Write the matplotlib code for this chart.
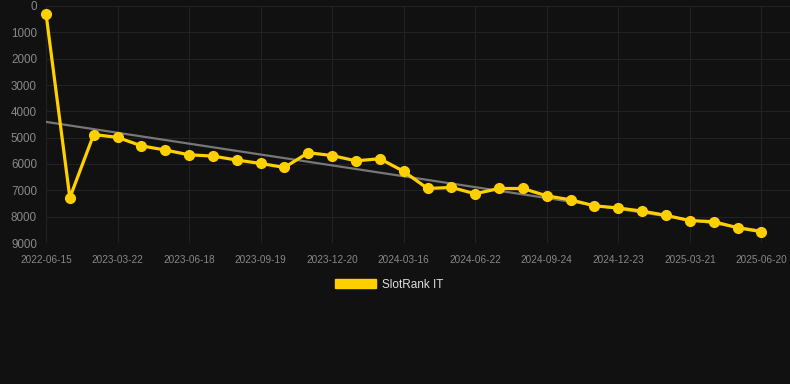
import matplotlib.pyplot as plt
import numpy as np
from matplotlib.patches import Patch

plt.rcParams['font.family'] = ['Liberation Sans', 'DejaVu Sans']

# dates (only every third one is labelled on the axis)
dates = ['2022-06-15', '2022-09-20', '2022-12-20',
         '2023-03-22', '2023-04-20', '2023-05-20',
         '2023-06-18', '2023-07-20', '2023-08-20',
         '2023-09-19', '2023-10-20', '2023-11-20',
         '2023-12-20', '2024-01-20', '2024-02-16',
         '2024-03-16', '2024-04-20', '2024-05-20',
         '2024-06-22', '2024-07-24', '2024-08-24',
         '2024-09-24', '2024-10-24', '2024-11-23',
         '2024-12-23', '2025-01-21', '2025-02-21',
         '2025-03-21', '2025-04-20', '2025-05-20',
         '2025-06-20']
rank = [290, 7280, 4880, 4990, 5310, 5470, 5650, 5700, 5850, 5980, 6130,
        5570, 5680, 5880, 5800, 6280, 6930, 6890, 7130, 6930, 6930,
        7210, 7360, 7590, 7670, 7790, 7950, 8150, 8190, 8420, 8570]

bg = '#111111'
yellow = '#ffd000'

fig = plt.figure(figsize=(7.9, 3.84), dpi=100, facecolor=bg)
ax = fig.add_axes([46/790, 1-243/384, 744/790, 237/384], facecolor=bg)

x = np.arange(len(rank))
# trend line (least squares)
k, b = np.polyfit(x, rank, 1)
ax.plot(x, k*x + b, color='#777777', lw=1.6, zorder=2)
ax.plot(x, rank, color=yellow, lw=2.3, marker='o', ms=7, zorder=3,
        clip_on=False)

ax.set_ylim(9000, 0)
ax.set_xlim(0, 31.2)
ax.set_yticks(range(0, 9001, 1000))
ax.set_xticks(x[::3])
ax.set_xticklabels(dates[::3])
ax.tick_params(colors='#888888', length=0)
ax.tick_params(axis='x', labelsize=7.2, pad=8.5)
ax.tick_params(axis='y', labelsize=8.4, pad=6.5)
ax.grid(color='#222222', lw=0.8)
for s in ax.spines.values():
    s.set_visible(False)

fig.legend(handles=[Patch(color=yellow)], labels=['SlotRank IT'],
           loc='center', bbox_to_anchor=(389/790, 1-284.5/384), frameon=False,
           labelcolor='#dddddd', fontsize=8.5, handlelength=3.5, handleheight=0.9,
           handletextpad=0.5)

fig.savefig('out.png', dpi=100, facecolor=bg)
